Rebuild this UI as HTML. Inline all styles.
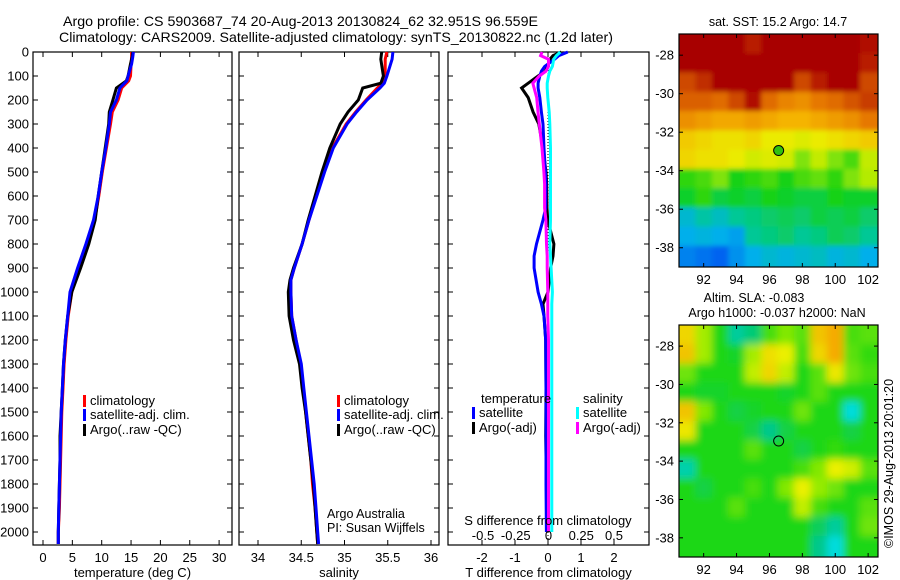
<!DOCTYPE html>
<html><head><meta charset="utf-8"><style>
body{margin:0;background:#fff;}
svg{display:block;font-family:"Liberation Sans",sans-serif;}
text{fill:#000;}
</style></head><body>
<svg id="fig" width="900" height="580" viewBox="0 0 900 580" xmlns="http://www.w3.org/2000/svg">
<defs>
<filter id="blurS" x="-10%" y="-10%" width="120%" height="120%"><feGaussianBlur stdDeviation="2.5"/></filter>
<filter id="blurL" x="-10%" y="-10%" width="120%" height="120%"><feGaussianBlur stdDeviation="4"/></filter>
<clipPath id="clip1"><rect x="679" y="34" width="199" height="233"/></clipPath>
<clipPath id="clip2"><rect x="679" y="325" width="199" height="232"/></clipPath>
</defs>
<g id="titles">
<text x="63" y="26" font-size="14" textLength="475" lengthAdjust="spacingAndGlyphs">Argo profile: CS 5903687_74 20-Aug-2013 20130824_62 32.951S 96.559E</text>
<text x="59" y="42" font-size="14" textLength="554" lengthAdjust="spacingAndGlyphs">Climatology: CARS2009. Satellite-adjusted climatology: synTS_20130822.nc (1.2d later)</text>
<text x="778" y="26" font-size="12.5" text-anchor="middle">sat. SST: 15.2 Argo: 14.7</text>
<text x="754" y="302" font-size="12.5" text-anchor="middle">Altim. SLA: -0.083</text>
<text x="777" y="317" font-size="12.5" text-anchor="middle">Argo h1000: -0.037 h2000: NaN</text>
<text transform="translate(893,548) rotate(-90)" font-size="12.5">©IMOS 29-Aug-2013 20:01:20</text>
<text x="327" y="518" font-size="12.5">Argo Australia</text>
<text x="327" y="532" font-size="12.5">PI: Susan Wijffels</text>
</g>
</svg>
<script>
// ---- Profile data ----
const depthT = [0,20,50,100,120,150,200,250,300,400,500,600,700,800,900,1000,1100,1200,1300,1400,1500,1600,1700,1800,1900,2000,2050];
const tempClim = [15.1,15.1,15.0,14.9,14.6,13.4,12.8,11.8,11.5,10.8,10.1,9.5,8.8,7.7,6.2,4.9,4.3,3.9,3.6,3.4,3.2,3.1,3.0,2.9,2.8,2.6,2.6];
const tempSat  = [15.4,15.3,15.1,14.5,14.3,13.1,12.5,11.5,11.3,10.7,10.0,9.4,8.6,7.3,5.9,4.6,4.2,3.8,3.5,3.3,3.1,3.0,2.9,2.8,2.7,2.6,2.6];
const tempArgo = [15.3,15.2,14.9,14.5,14.2,12.5,11.9,11.3,11.2,10.6,10.0,9.4,8.9,7.8,6.4,4.9,4.2,3.8,3.5,3.3,3.1,2.9,2.9,2.8,2.7,2.6,2.6];
const depthS = [0,30,100,130,150,200,250,300,400,500,600,700,800,900,950,1000,1100,1200,1300,1400,1500,1600,1700,1800,1900,2000,2050];
const salClim = [35.49,35.47,35.47,35.44,35.38,35.25,35.13,35.02,34.86,34.76,34.67,34.59,34.51,34.42,34.38,34.38,34.39,34.44,34.49,34.52,34.55,34.58,34.61,34.63,34.66,34.68,34.69];
const salSat  = [35.56,35.55,35.49,35.46,35.41,35.26,35.14,35.03,34.87,34.77,34.68,34.59,34.51,34.42,34.38,34.38,34.39,34.44,34.5,34.53,34.56,34.59,34.62,34.65,34.67,34.69,34.70];
const salArgo = [35.43,35.42,35.45,35.42,35.21,35.16,35.04,34.95,34.83,34.74,34.66,34.58,34.51,34.41,34.37,34.35,34.36,34.41,34.48,34.51,34.55,34.58,34.61,34.64,34.66,34.68,34.69];
const depthD = [0,15,30,60,80,100,130,150,190,250,300,400,500,550,650,700,800,850,900,1000,1050,1100,1200,1400,1600,1800,2000];
const dTSat  = [0.6,0.33,0.2,-0.1,-0.2,-0.25,-0.3,-0.3,-0.25,-0.2,-0.15,-0.12,-0.08,-0.06,-0.07,-0.15,-0.35,-0.42,-0.42,-0.3,-0.2,-0.12,-0.07,-0.06,-0.06,-0.06,-0.05];
const dTArgo = [0.4,0.15,0.06,-0.02,-0.08,-0.3,-0.6,-0.8,-0.6,-0.45,-0.28,-0.15,-0.06,-0.04,-0.03,-0.01,0.18,0.15,0.08,0.0,-0.15,-0.12,-0.07,-0.06,-0.07,-0.05,-0.04];
const dSSat  = [0.09,0.06,0.04,0.03,0.01,0.0,-0.01,-0.01,-0.005,0.005,0.01,0.015,0.015,0.015,0.015,0.015,0.01,0.015,0.02,0.03,0.025,0.025,0.025,0.025,0.025,0.025,0.025];
const dSArgo = [-0.05,-0.06,0.0,0.0,-0.02,-0.07,-0.12,-0.11,-0.09,-0.08,-0.07,-0.05,-0.035,-0.03,-0.03,-0.02,-0.015,-0.01,-0.01,-0.005,-0.005,-0.005,0.0,0.0,0.0,0.0,0.0];
// ---- Tick labels ----
const depthTicks = [0,100,200,300,400,500,600,700,800,900,1000,1100,1200,1300,1400,1500,1600,1700,1800,1900,2000];
const tempTicks = [0,5,10,15,20,25,30];
const salTicks = [34,34.5,35,35.5,36];
const tdTicks = [-2,-1,0,1,2];
const sdTicks = [-0.5,-0.25,0,0.25,0.5];
const mapLonTicks = [92,94,96,98,100,102];
const mapLatTicks = [-28,-30,-32,-34,-36,-38];
// ---- Map grids (rows lat -27.5 .. -38.5, cols lon 91..102) ----
const sstGrid = [
[17.2,17.2,17.1,17.2,16.9,17.2,17.2,17.1,17.2,17.2,17.1,17.0],
[17.2,17.2,17.2,17.2,17.2,17.2,17.1,17.2,17.2,17.2,17.2,16.9],
[16.6,16.8,17.1,17.2,17.2,17.2,17.1,16.6,16.9,17.2,17.1,16.6],
[16.4,16.4,16.3,16.6,17.0,16.3,16.1,16.0,16.2,16.3,16.5,16.7],
[16.0,15.9,15.8,15.8,15.9,15.8,15.7,15.7,15.8,15.9,16.0,16.2],
[15.5,15.4,15.3,15.3,15.4,15.2,15.2,15.1,15.2,15.3,15.4,15.5],
[15.4,15.3,15.3,15.2,15.0,15.1,15.0,14.6,14.9,14.6,14.4,14.9],
[14.3,14.4,14.6,14.2,14.3,14.4,14.2,14.4,14.5,14.3,14.6,14.8],
[14.1,14.3,14.0,14.1,14.0,14.2,14.1,14.0,14.0,14.2,14.1,14.1],
[13.2,13.5,13.3,13.6,13.7,13.8,13.9,13.8,14.0,13.9,14.0,13.8],
[13.0,13.1,13.0,12.9,13.6,13.7,13.8,13.6,13.7,13.9,13.8,13.6],
[12.7,12.6,12.5,12.8,13.0,13.2,13.1,13.2,13.3,13.1,13.2,13.0]
];
const slaGrid = [
[0.15,0.07,0.0,-0.06,-0.04,0.02,0.05,0.03,0.17,0.22,0.02,0.03],
[0.17,0.07,0.0,-0.01,0.07,0.14,0.12,0.02,0.15,0.24,0.03,0.01],
[0.04,0.0,0.0,0.0,0.09,0.15,0.09,0.0,0.03,0.13,0.04,0.02],
[0.0,-0.01,-0.01,0.0,0.0,0.0,-0.01,0.0,0.03,0.0,0.0,0.0],
[0.17,0.05,0.0,-0.02,-0.01,0.0,0.0,0.04,0.0,0.0,-0.1,0.0],
[0.13,0.0,0.0,0.0,-0.02,-0.05,-0.02,0.0,0.0,0.0,-0.02,0.0],
[0.0,0.0,0.0,0.0,0.03,0.0,0.0,-0.02,0.0,0.01,0.0,0.0],
[-0.07,0.0,0.0,0.0,0.0,0.0,0.0,0.02,0.05,0.12,0.1,0.03],
[0.0,-0.02,0.0,0.0,0.02,0.0,0.05,0.12,0.06,0.04,0.0,0.0],
[0.0,0.0,0.0,0.03,0.0,0.0,0.0,0.09,0.02,0.0,0.0,0.03],
[0.0,0.0,0.0,0.0,0.0,0.0,0.0,0.0,-0.03,-0.06,0.0,0.04],
[0.0,0.0,0.0,0.0,0.0,0.0,0.0,0.0,-0.05,-0.1,0.0,0.0]
];
const argoLon = 96.559, argoLat = -32.951;

const NS = "http://www.w3.org/2000/svg";
const svg = document.getElementById('fig');
function mk(tag, attrs, parent){const e=document.createElementNS(NS,tag);for(const k in attrs)e.setAttribute(k,attrs[k]);(parent||svg).appendChild(e);return e;}
const yD = d => 52 + d*0.24;
const TOP=52, BOT=545;
const xT = v => 43 + v*5.87;
const xS = v => 258 + (v-34)*86.5;
const xdT = v => 548 + v*33;
const xdS = v => 548.5 + v*131;

function panel(name, x0, x1, xf, ticks, fmt, title, leftLabels){
  const g = mk('g', {});
  
  
  const fr = mk('rect', {x:x0,y:TOP,width:x1-x0,height:BOT-TOP,fill:'none',stroke:'#000','stroke-width':1.2}, g);
  
  
  depthTicks.forEach(d=>{
    const y=yD(d);
    mk('line',{x1:x0,x2:x0+5,y1:y,y2:y,stroke:'#000'},g);
    mk('line',{x1:x1-5,x2:x1,y1:y,y2:y,stroke:'#000'},g);
    if(leftLabels){
      const t=mk('text',{x:x0-4,y:y+4.5,'font-size':13,'text-anchor':'end'},g);
      t.textContent=d;
      
      
    }
  });
  if(ticks){
    ticks.forEach(v=>{
      const x=xf(v);
      mk('line',{x1:x,x2:x,y1:TOP,y2:TOP+5,stroke:'#000'},g);
      mk('line',{x1:x,x2:x,y1:BOT-5,y2:BOT,stroke:'#000'},g);
      const t=mk('text',{x:x,y:562,'font-size':13,'text-anchor':'middle'},g);
      t.textContent=fmt(v);
      
      
    });
  }
  const tt=mk('text',{x:(x0+x1)/2,y:577,'font-size':13,'text-anchor':'middle'},g);
  tt.textContent=title;
  
  
  return g;
}
function line(g, depths, vals, xf, color, name, w){
  const pts = depths.map((d,i)=>xf(vals[i]).toFixed(1)+','+yD(d).toFixed(1)).join(' ');
  const p = mk('polyline',{points:pts,fill:'none',stroke:color,'stroke-width':w||3,'stroke-linejoin':'miter'},g);
  
  
}
function legend(g, x, y, color, label, name){
  const r=mk('rect',{x:x,y:y-10,width:3,height:12,fill:color},g);
  const t=mk('text',{x:x+7,y:y,'font-size':13},g);
  t.textContent=label;
  
  
  
  
}

// Panel 1 temperature
const p1 = panel('temperature-panel', 33, 232, xT, tempTicks, v=>v, 'temperature (deg C)', true);
line(p1, depthT, tempClim, xT, '#ff0000', 'temp-climatology-line');
line(p1, depthT, tempArgo, xT, '#000000', 'temp-argo-line');
line(p1, depthT, tempSat, xT, '#0000ff', 'temp-satellite-line');
legend(p1, 83, 405, '#ff0000', 'climatology', 'legend-climatology');
legend(p1, 83, 419, '#0000ff', 'satellite-adj. clim.', 'legend-satellite');
legend(p1, 83, 434, '#000000', 'Argo(..raw -QC)', 'legend-argo');

// Panel 2 salinity
const p2 = panel('salinity-panel', 239, 439, xS, salTicks, v=>v, 'salinity', false);
line(p2, depthS, salClim, xS, '#ff0000', 'sal-climatology-line');
line(p2, depthS, salArgo, xS, '#000000', 'sal-argo-line');
line(p2, depthS, salSat, xS, '#0000ff', 'sal-satellite-line');
legend(p2, 337, 405, '#ff0000', 'climatology', 'legend-climatology');
legend(p2, 337, 419, '#0000ff', 'satellite-adj. clim.', 'legend-satellite');
legend(p2, 337, 434, '#000000', 'Argo(..raw -QC)', 'legend-argo');

// Panel 3 differences
const p3 = panel('difference-panel', 448, 649, xdT, tdTicks, v=>v, 'T difference from climatology', false);
mk('line',{x1:xdT(0),x2:xdT(0),y1:TOP,y2:BOT,stroke:'#000','stroke-dasharray':'1,2'},p3);
line(p3, depthD, dTArgo, xdT, '#000000', 'tdiff-argo-line');
line(p3, depthD, dTSat, xdT, '#0000ff', 'tdiff-satellite-line');
line(p3, depthD, dSSat, xdS, '#00ffff', 'sdiff-satellite-line');
line(p3, depthD, dSArgo, xdS, '#ff00ff', 'sdiff-argo-line');
{
 const t1=mk('text',{x:481,y:403,'font-size':13},p3); t1.textContent='temperature';
 
 
 const t2=mk('text',{x:583,y:403,'font-size':13},p3); t2.textContent='salinity';
 
 
}
legend(p3, 472, 417, '#0000ff', 'satellite', 'legend-t-satellite');
legend(p3, 472, 432, '#000000', 'Argo(-adj)', 'legend-t-argo');
legend(p3, 576, 417, '#00ffff', 'satellite', 'legend-s-satellite');
legend(p3, 576, 432, '#ff00ff', 'Argo(-adj)', 'legend-s-argo');
{
 const t=mk('text',{x:548,y:525,'font-size':13,'text-anchor':'middle'},p3); t.textContent='S difference from climatology';
 
 
 sdTicks.forEach(v=>{
  const l=mk('text',{x:xdS(v),y:540,'font-size':13,'text-anchor':'middle'},p3); l.textContent=v;
  
  
 });
}

// ---- Maps ----
function lerp(a,b,t){return a.map((v,i)=>Math.round(v+(b[i]-v)*t));}
function cmap(stops, v){
  if(v<=stops[0][0])return stops[0][1];
  for(let i=1;i<stops.length;i++){if(v<=stops[i][0]){const t=(v-stops[i-1][0])/(stops[i][0]-stops[i-1][0]);return lerp(stops[i-1][1],stops[i][1],t);}}
  return stops[stops.length-1][1];
}
const sstStops=[[12.5,[0,100,240]],[13.0,[0,175,235]],[13.6,[0,200,150]],[14.2,[20,210,20]],[14.8,[180,235,0]],[15.2,[235,235,0]],[15.7,[245,180,0]],[16.2,[230,120,0]],[16.7,[200,60,0]],[17.1,[168,0,0]]];
const slaStops=[[-0.1,[0,220,220]],[-0.05,[0,200,140]],[0,[30,215,20]],[0.06,[150,235,0]],[0.12,[235,240,0]],[0.2,[245,170,0]]];
function map(name, grid, stops, top, bottom, fillDot, clipId, filtId){
  const x0=679,x1=878;
  const lonX=l=>x0+(l-90.5)*(x1-x0)/12.1;
  const latY=l=>top+(-26.9-l)*(bottom-top)/12.1;
  const g=mk('g',{});
  
  
  const cg=mk('g',{'clip-path':'url(#'+clipId+')'},g);
  const fg=mk('g',{filter:'url(#'+filtId+')'},cg);
  const nr=grid.length;
  grid.forEach((row,r)=>row.forEach((v,c)=>{
    let xa=lonX(90.5+c), xb=lonX(91.5+c);
    let ya=latY(-26.9-r), yb=latY(-27.9-r);
    if(c===0) xa-=15; if(c===row.length-1) xb+=15;
    if(r===0) ya-=15; if(r===nr-1) yb+=15;
    const cl=cmap(stops,v);
    const rc=mk('rect',{x:xa.toFixed(1),y:ya.toFixed(1),width:(xb-xa+0.6).toFixed(1),height:(yb-ya+0.6).toFixed(1),fill:`rgb(${cl[0]},${cl[1]},${cl[2]})`},fg);
    
    
  }));
  mk('rect',{x:x0,y:top,width:x1-x0,height:bottom-top,fill:'none',stroke:'#000','stroke-width':1.2},g);
  mapLonTicks.forEach(l=>{
    const x=lonX(l);
    mk('line',{x1:x,x2:x,y1:top,y2:top+4,stroke:'#000'},g);
    mk('line',{x1:x,x2:x,y1:bottom-4,y2:bottom,stroke:'#000'},g);
    const t=mk('text',{x:x,y:bottom+17,'font-size':13,'text-anchor':'middle'},g); t.textContent=l;
    
    
  });
  mapLatTicks.forEach(l=>{
    const y=latY(l);
    mk('line',{x1:x0,x2:x0+4,y1:y,y2:y,stroke:'#000'},g);
    mk('line',{x1:x1-4,x2:x1,y1:y,y2:y,stroke:'#000'},g);
    const t=mk('text',{x:x0-5,y:y+4.5,'font-size':13,'text-anchor':'end'},g); t.textContent=l;
    
    
  });
  const c=mk('circle',{cx:lonX(argoLon),cy:latY(argoLat),r:5,fill:fillDot||'none',stroke:'#000','stroke-width':1},g);
  
  
}
map('sst-map', sstGrid, sstStops, 34, 267, '#30c010', 'clip1', 'blurS');
map('sla-map', slaGrid, slaStops, 325, 557, null, 'clip2', 'blurL');
</script>
</body></html>
